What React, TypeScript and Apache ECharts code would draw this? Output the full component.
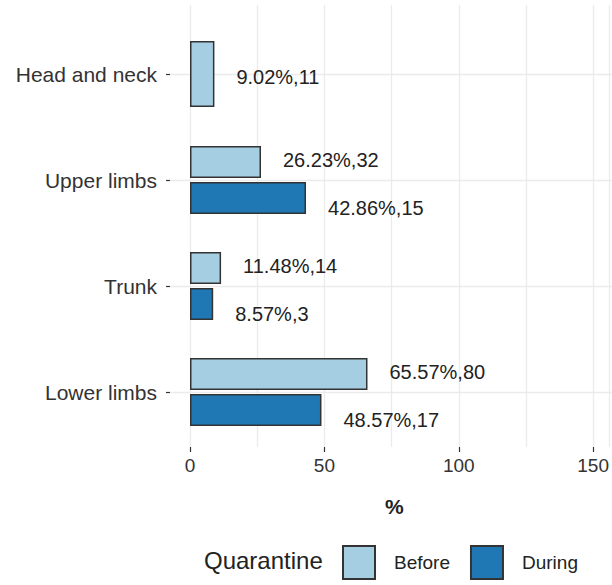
import React, { useEffect, useRef } from "react";
import * as echarts from "echarts";

const categories = ["Head and neck", "Upper limbs", "Trunk", "Lower limbs"];
const beforePct: (number | null)[] = [9.02, 26.23, 11.48, 65.57];
const beforeN: (number | null)[] = [11, 32, 14, 80];
const duringPct: (number | null)[] = [null, 42.86, 8.57, 48.57];
const duringN: (number | null)[] = [null, 15, 3, 17];
const xTicks = [0, 50, 100, 150];
const seriesNames = ["Before", "During"];
const legendTitle = "Quarantine";
const xTitle = "%";

const C_BEFORE = "#a6cee3";
const C_DURING = "#1f78b4";
const BORDER = "#333333";
const GRIDC = "#ebebeb";
const FONT = "Liberation Sans, Arial, sans-serif";

export default function App() {
  const ref = useRef<HTMLDivElement>(null);
  useEffect(() => {
    if (!ref.current) return;
    const chart = echarts.init(ref.current, null, { renderer: "svg" });
    const X_MAX = 155.9;
    // Head and neck has only "Before": full-width bar on its own axis
    const headOnly = beforePct.map((v, i) => (duringPct[i] == null ? v : null));
    const beforeDodged = beforePct.map((v, i) => (duringPct[i] == null ? null : v));
    const fmt = (pcts: (number | null)[], ns: (number | null)[]) => (p: any) => {
      const v = pcts[p.dataIndex];
      if (v == null) return "";
      return v.toFixed(2) + "%," + ns[p.dataIndex];
    };
    const labelBase = {
      show: true,
      position: "right",
      distance: 22,
      color: "#222",
      fontSize: 20,
      fontFamily: FONT,
    };
    chart.setOption({
      animation: false,
      backgroundColor: "#ffffff",
      textStyle: { fontFamily: FONT },
      title: [
        {
          text: legendTitle,
          left: 204,
          top: 548,
          padding: 0,
          textStyle: { fontSize: 24, fontWeight: "normal", color: "#222", fontFamily: FONT },
        },
        {
          text: xTitle,
          left: 385,
          top: 496,
          padding: 0,
          textStyle: { fontSize: 21, fontWeight: "bold", color: "#222", fontFamily: FONT },
        },
      ],
      legend: {
        data: seriesNames,
        icon: "rect",
        left: 342,
        top: 545,
        padding: 0,
        itemWidth: 32,
        itemHeight: 33,
        itemGap: 20,
        textStyle: { fontSize: 19, color: "#222", fontFamily: FONT, padding: [0, 0, 0, 14] },
      },
      grid: [
        // 0: vertical gridlines + x axis
        { left: 190, right: 0, top: 5, bottom: 138 },
        // 1: horizontal gridlines + y labels
        { left: 170, right: 0, top: 74, bottom: 193 },
        // 2: bars
        { left: 190, right: 0, top: 21, bottom: 140 },
      ],
      xAxis: [
        {
          gridIndex: 0,
          type: "value",
          min: 0,
          max: X_MAX,
          interval: 50,
          axisLine: { show: false },
          axisTick: {
            show: true,
            length: 5,
            customValues: xTicks,
            lineStyle: { color: BORDER, width: 1.2 },
          },
          axisLabel: {
            margin: 9,
            fontSize: 19,
            color: "#333",
            fontFamily: FONT,
            customValues: xTicks,
            formatter: (v: number) => (xTicks.includes(v) ? String(v) : ""),
          },
          splitLine: { show: false },
        },
        {
          gridIndex: 0,
          type: "value",
          min: 0,
          max: X_MAX,
          interval: 25,
          axisLine: { show: false },
          axisTick: { show: false },
          axisLabel: { show: false },
          splitLine: { show: true, lineStyle: { color: GRIDC, width: 1.3 } },
        },
        {
          gridIndex: 1,
          type: "value",
          show: false,
          min: 0,
          max: 1,
        },
        {
          gridIndex: 2,
          type: "value",
          min: 0,
          max: X_MAX,
          show: false,
        },
      ],
      yAxis: [
        { gridIndex: 0, type: "value", show: false, min: 0, max: 1 },
        {
          gridIndex: 1,
          type: "category",
          data: categories,
          inverse: true,
          boundaryGap: false,
          axisLine: { show: false },
          axisTick: { show: true, length: 4, lineStyle: { color: BORDER, width: 1.2 } },
          axisLabel: { margin: 13, fontSize: 21, color: "#333", fontFamily: FONT },
          splitLine: { show: true, lineStyle: { color: GRIDC, width: 1.4 } },
        },
        {
          gridIndex: 2,
          type: "category",
          data: categories,
          inverse: true,
          show: false,
        },
        {
          gridIndex: 2,
          type: "category",
          data: categories,
          inverse: true,
          show: false,
        },
      ],
      series: [
        {
          name: "Before",
          type: "bar",
          xAxisIndex: 3,
          yAxisIndex: 2,
          data: beforeDodged,
          barWidth: 32,
          barGap: "12%",
          itemStyle: { color: C_BEFORE, borderColor: BORDER, borderWidth: 1.5 },
          label: { ...labelBase, offset: [0, -2], formatter: fmt(beforePct, beforeN) },
        },
        {
          name: "During",
          type: "bar",
          xAxisIndex: 3,
          yAxisIndex: 2,
          data: duringPct,
          barWidth: 32,
          barGap: "12%",
          itemStyle: { color: C_DURING, borderColor: BORDER, borderWidth: 1.5 },
          label: { ...labelBase, offset: [0, 10], formatter: fmt(duringPct, duringN) },
        },
        {
          name: "Before",
          type: "bar",
          xAxisIndex: 3,
          yAxisIndex: 3,
          data: headOnly,
          barWidth: 66,
          itemStyle: { color: C_BEFORE, borderColor: BORDER, borderWidth: 1.5 },
          label: { ...labelBase, offset: [0, 3], formatter: fmt(headOnly, beforeN) },
        },
      ],
    });
    return () => chart.dispose();
  }, []);
  return (
    <div
      ref={ref}
      style={{ position: "fixed", left: 0, top: 0, width: 612, height: 585 }}
    />
  );
}
